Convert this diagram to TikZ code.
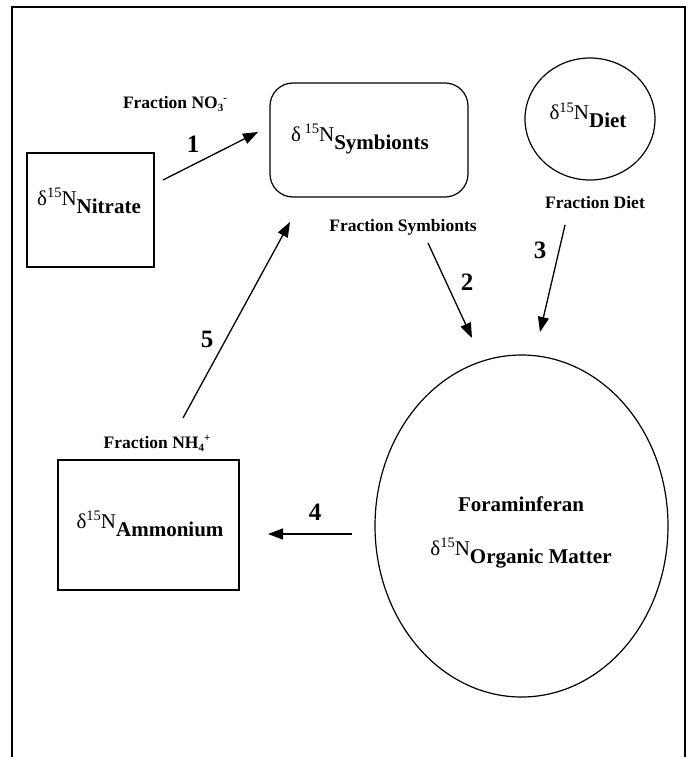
\documentclass[tikz,border=0pt]{standalone}
\usepackage{fontspec}
\setmainfont{Liberation Serif}
\usetikzlibrary{arrows.meta,shapes.geometric}
\newcommand{\dNx}[2][]{δ#1\raisebox{7.5pt}{\fontsize{14.5}{14.5}\selectfont 15}N\raisebox{-8pt}{\bfseries #2}}
\begin{document}
\begin{tikzpicture}[x=1pt,y=-1pt,
  box/.style={draw,line width=1.2pt,inner sep=0pt},
  lab/.style={font=\fontsize{17.5}{20}\selectfont\bfseries,anchor=base,inner sep=0pt},
  num/.style={font=\fontsize{25}{28}\selectfont\bfseries,anchor=base,inner sep=0pt},
  maintxt/.style={font=\fontsize{21}{24}\selectfont,anchor=base,inner sep=0pt},
  arr/.style={line width=1.3pt,-{Triangle[length=15pt,width=11pt]}}]
\useasboundingbox (0,0) rectangle (690,757);
% frame
\draw[line width=1.5pt] (12,757) -- (12,7) -- (685,7) -- (685,757);
% shapes
\node[box,minimum width=127pt,minimum height=114pt] (nitrateBox) at (90.5,210) {};
\node[box,rounded corners=23pt,minimum width=198pt,minimum height=114pt] (symBox) at (369,140) {};
\node[box,ellipse,minimum width=130pt,minimum height=122pt] (dietCirc) at (590,119) {};
\node[box,minimum width=181pt,minimum height=130pt] (ammBox) at (148.5,525) {};
\node[box,ellipse,minimum width=293pt,minimum height=342pt] (foram) at (521.5,526) {};
% main texts
\node[maintxt] (nitrateTxt) at (89,205) {\dNx{Nitrate}};
\node[maintxt] (symTxt) at (360,141) {\dNx[\,]{Symbionts}};
\node[maintxt] (dietTxt) at (588,120) {\dNx{Diet}};
\node[maintxt] (ammTxt) at (150,528) {\dNx{Ammonium}};
\node[maintxt,font=\fontsize{21}{24}\selectfont\bfseries] (foramTxt) at (521,511) {Foraminferan};
\node[maintxt] (omTxt) at (521,555) {\dNx{Organic Matter}};
% fraction labels
\node[lab] (fNO3) at (175,109) {Fraction NO\raisebox{-3pt}{\fontsize{11}{11}\selectfont 3}\raisebox{7pt}{\fontsize{11}{11}\selectfont -}};
\node[lab] (fSym) at (403,231) {Fraction Symbionts};
\node[lab] (fDiet) at (595,208) {Fraction Diet};
\node[lab] (fNH4) at (157,448) {Fraction NH\raisebox{-3pt}{\fontsize{11}{11}\selectfont 4}\raisebox{7pt}{\fontsize{11}{11}\selectfont +}};
% numbers
\node[num] (n1) at (193,152) {1};
\node[num] (n2) at (467,290) {2};
\node[num] (n3) at (540,258) {3};
\node[num] (n4) at (315,520) {4};
\node[num] (n5) at (207,347) {5};
% arrow ends
\coordinate (a1s) at (163,180); \coordinate (a1e) at (258,132);
\coordinate (a2s) at (428,243); \coordinate (a2e) at (472,338);
\coordinate (a3s) at (565,225); \coordinate (a3e) at (540,332);
\coordinate (a4s) at (352,534); \coordinate (a4e) at (268,534);
\coordinate (a5s) at (183,418); \coordinate (a5e) at (290,222);
\draw[arr] (a1s) -- (a1e);
\draw[arr] (a2s) -- (a2e);
\draw[arr] (a3s) -- (a3e);
\draw[arr] (a4s) -- (a4e);
\draw[arr] (a5s) -- (a5e);
\end{tikzpicture}
\end{document}
